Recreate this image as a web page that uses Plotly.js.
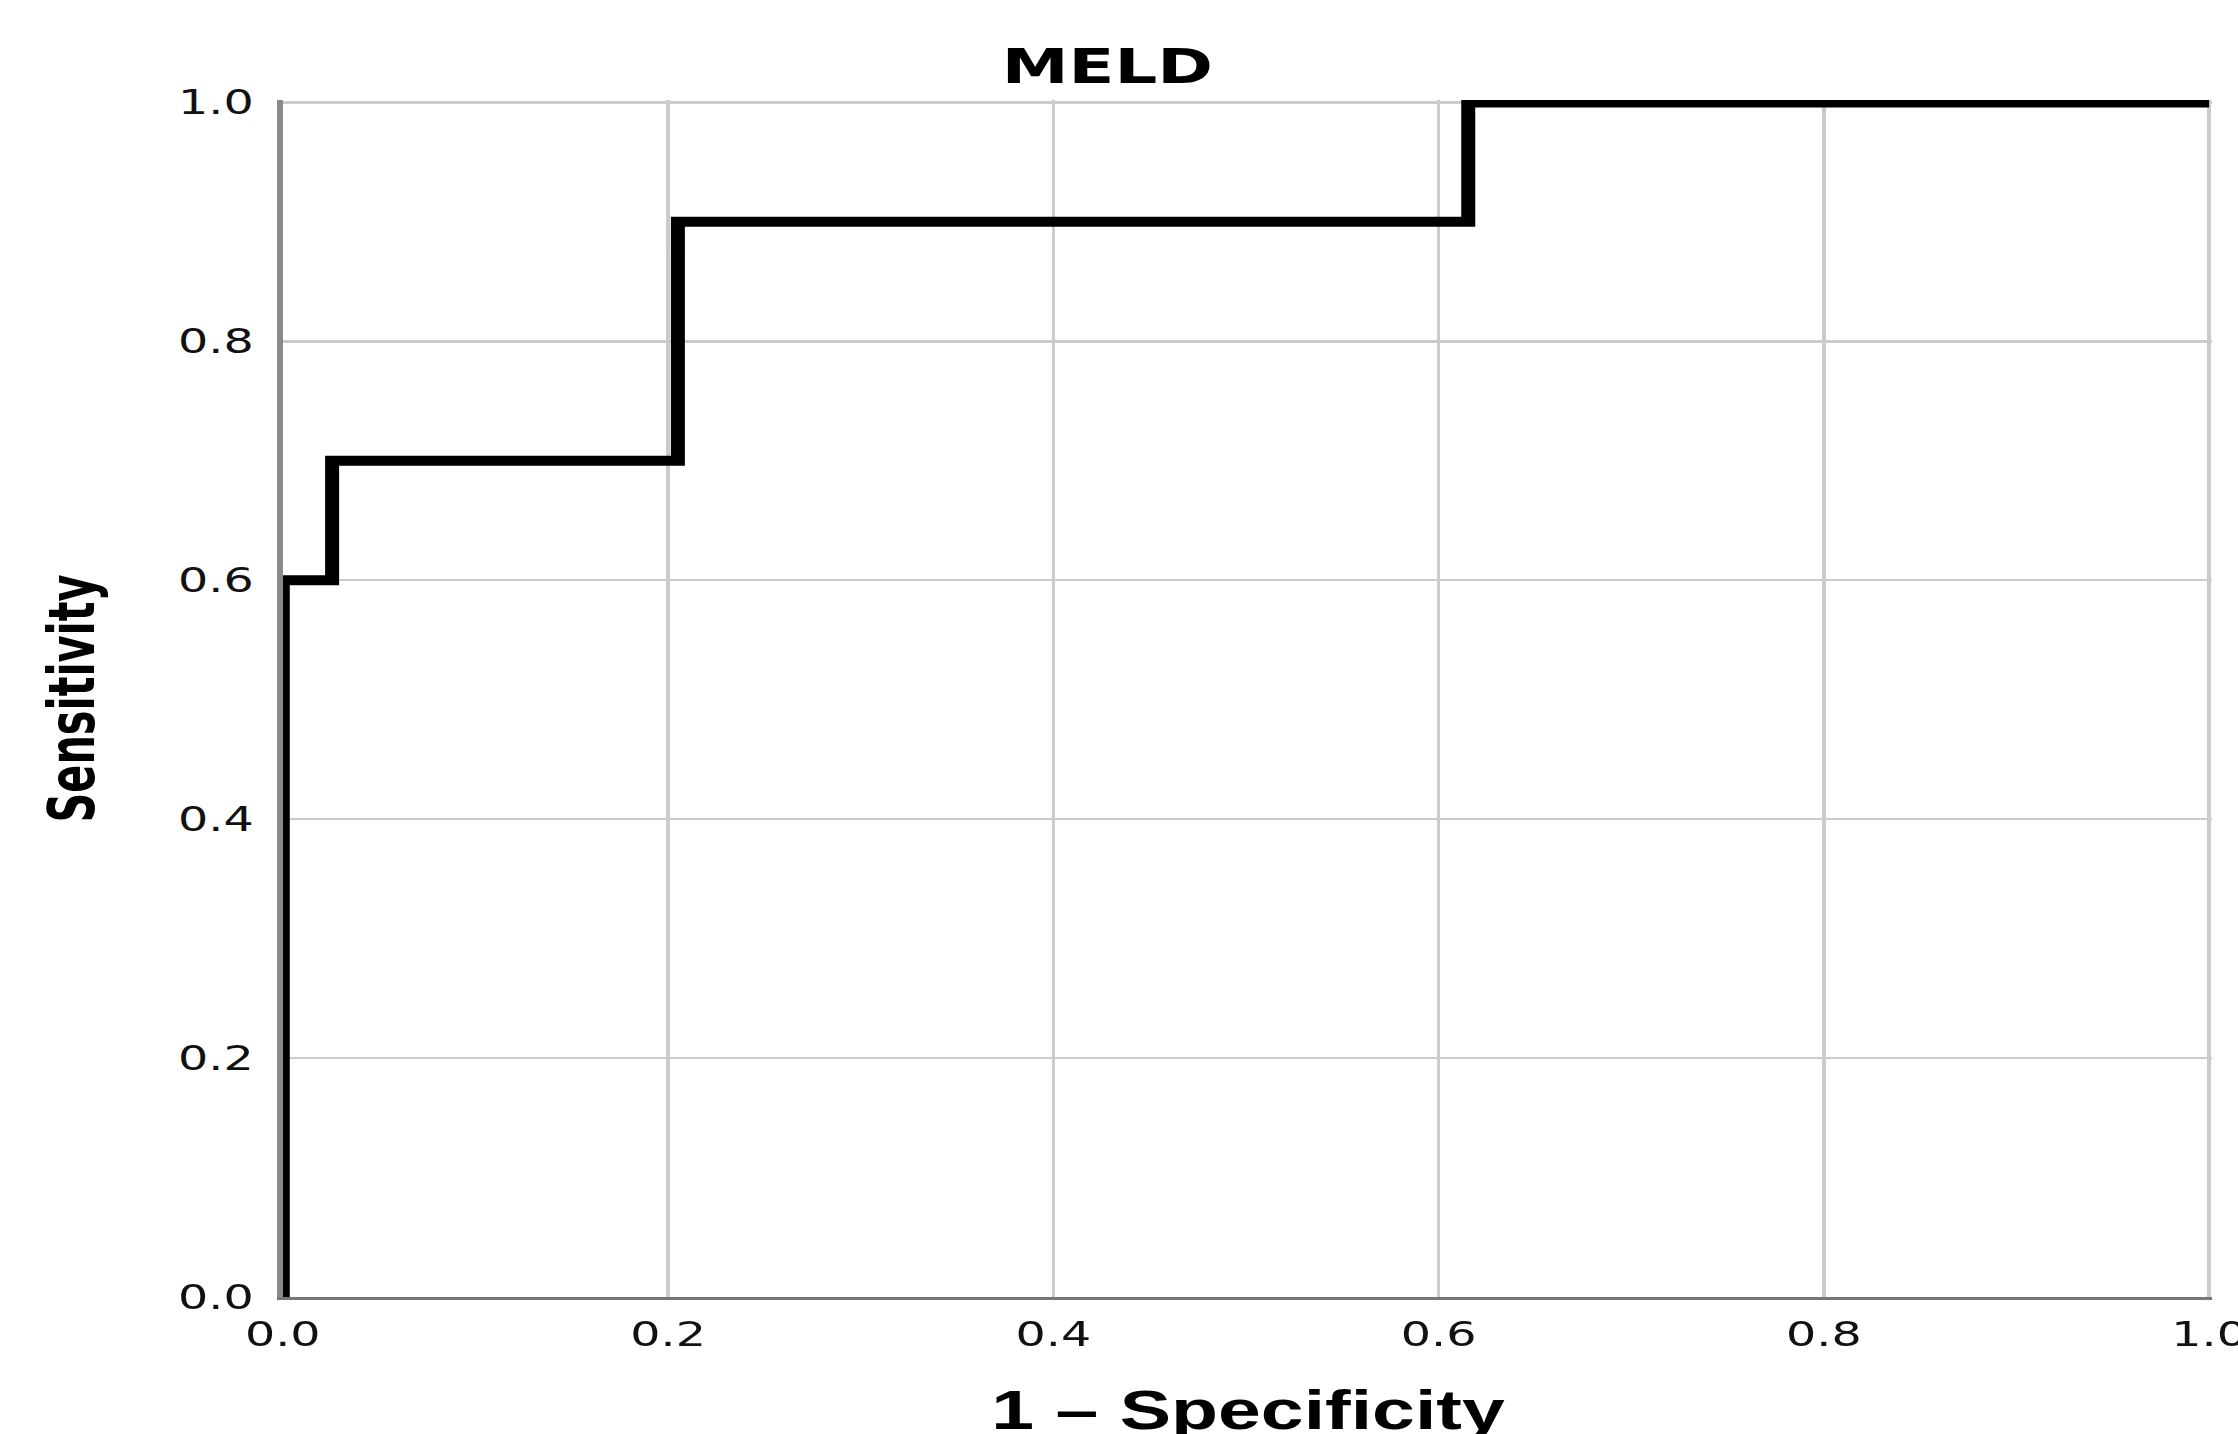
<!DOCTYPE html>
<html>
<head>
<meta charset="utf-8">
<script src="https://cdn.plot.ly/plotly-3.0.1.min.js"></script>
<style>
  html, body { margin: 0; padding: 0; background: #ffffff; overflow: hidden; width: 2238px; height: 1434px; }
  #wrap { position: absolute; left: 0; top: 0; width: 1599px; height: 1434px; transform: scaleX(1.4); transform-origin: 0 0; }
  #chart { width: 1599px; height: 1434px; }
  #chart svg { overflow: visible; }
</style>
</head>
<body>
<div id="wrap"><div id="chart"></div></div>
<script>
// ROC curve for MELD (1 - specificity vs sensitivity)
const chartTitle = "MELD";
const xTitle = "1 \u2013 Specificity";
const yTitle = "Sensitivity";
const falsePositiveRate = [0, 0, 0.0256, 0.0256, 0.2051, 0.2051, 0.6154, 0.6154, 1.0];
const sensitivity       = [0, 0.6, 0.6, 0.7, 0.7, 0.9, 0.9, 1.0, 1.0];
const tickValues = [0, 0.2, 0.4, 0.6, 0.8, 1.0];
const tickLabels = ["0.0", "0.2", "0.4", "0.6", "0.8", "1.0"];

const trace = {
  x: falsePositiveRate,
  y: sensitivity,
  type: "scatter",
  mode: "lines",
  line: { color: "#000000", width: 10, shape: "linear" },
  cliponaxis: false,
  hoverinfo: "skip",
  showlegend: false
};

const tickFont = { family: "DejaVu Sans", size: 34, color: "#111111" };

const layout = {
  width: 1599,
  height: 1434,
  margin: { l: 202, r: 19, t: 100, b: 137, pad: 0 },
  paper_bgcolor: "#ffffff",
  plot_bgcolor: "#ffffff",
  showlegend: false,
  title: {
    text: chartTitle,
    font: { family: "DejaVu Sans", size: 48, color: "#000000", weight: "bold" },
    xref: "container", x: 0.4947, xanchor: "center",
    yref: "container", y: 0.954, yanchor: "middle"
  },
  annotations: [{
    text: xTitle,
    xref: "paper", x: 0.5, xanchor: "center",
    yref: "paper", y: 0, yanchor: "top", yshift: -80,
    showarrow: false,
    font: { family: "Liberation Sans", size: 55, color: "#000000", weight: "bold" }
  }],
  xaxis: {
    range: [0, 1.0015],
    tickvals: tickValues,
    ticktext: tickLabels,
    ticks: "",
    ticklabelstandoff: 5,
    ticklabeloverflow: "allow",
    tickfont: tickFont,
    showgrid: true,
    gridcolor: "#cbcbcb",
    gridwidth: 2.5,
    zeroline: false,
    showline: true,
    linecolor: "#777777",
    linewidth: 3,
    fixedrange: true
  },
  yaxis: {
    range: [0, 1.002],
    tickvals: tickValues,
    ticktext: tickLabels,
    ticks: "",
    ticklabelstandoff: 10,
    tickfont: tickFont,
    showgrid: true,
    gridcolor: "#cbcbcb",
    gridwidth: 2.5,
    zeroline: false,
    showline: true,
    linecolor: "#8a8a8a",
    linewidth: 4,
    fixedrange: true,
    title: {
      text: yTitle,
      font: { family: "Liberation Sans Narrow, DejaVu Sans Condensed, sans-serif", size: 46, color: "#000000", weight: "bold" },
      standoff: 46
    }
  }
};

Plotly.newPlot("chart", [trace], layout, { displayModeBar: false, staticPlot: true, responsive: false });
</script>
</body>
</html>
